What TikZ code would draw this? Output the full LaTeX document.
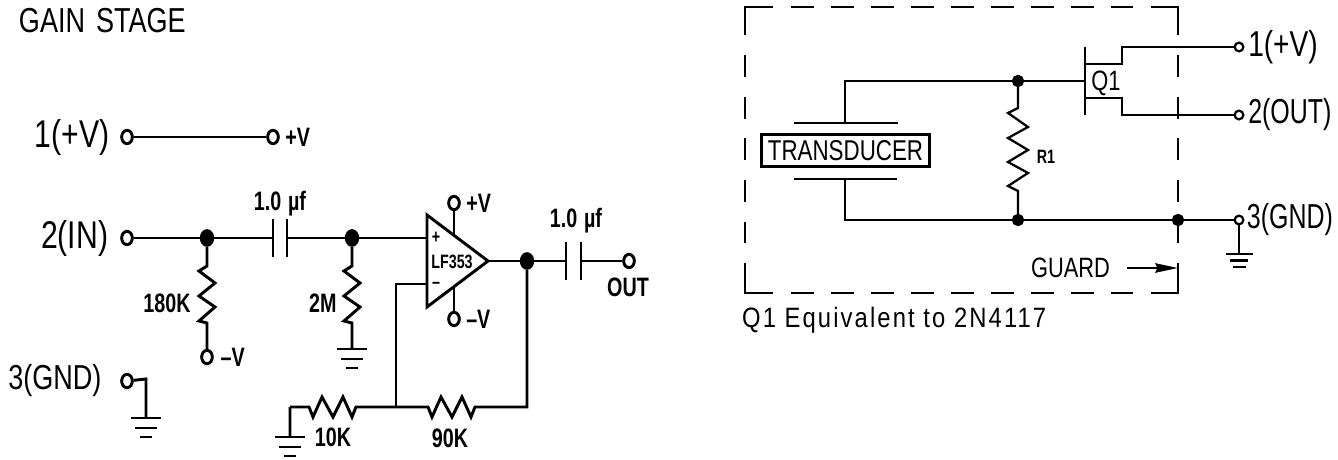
\documentclass[tikz,border=0pt]{standalone}
\usepackage{fontspec}
\usepackage{tikz}
\usetikzlibrary{positioning,arrows.meta,shapes.geometric}
\newfontfamily\cadfont[FakeStretch=0.78]{Liberation Sans}
\newfontfamily\cadnarrow[FakeStretch=0.72]{Liberation Sans}
\newfontfamily\cadwide[FakeStretch=0.85,LetterSpace=7.5]{Liberation Sans}
\newfontfamily\cadbold[FakeStretch=0.74]{Liberation Sans Bold}

\tikzset{
    vres/.style={to path={(\tikztostart) -- ++(0,#1) -- ++(-8,5) -- ++(16,12) -- ++(-16,13) -- ++(16,11) -- ++(-16,14) -- ++(8,2) -- (\tikztotarget)}},
    hres/.style={to path={(\tikztostart) -- ++(#1,0) -- ++(4,10) -- ++(9,-20) -- ++(11,20) -- ++(10,-20) -- ++(9,20) -- ++(4,-10) -- (\tikztotarget)}},
    rres/.style={to path={(\tikztostart) -- ++(0,#1) -- ++(-10,5) -- ++(20,14) -- ++(-20,11) -- ++(20,12) -- ++(-20,12) -- ++(20,11) -- ++(-20,13) -- ++(10,5) -- (\tikztotarget)}},
    gnd/.pic={\draw (-15,0) -- (15,0) (-11,10) -- (11,10) (-6,19) -- (6,19);},
    sgnd/.pic={\draw (-13,0) -- (14,0) (-9,6.5) -- (9,6.5) (-6,13) -- (7,13);}
}

\begin{document}
\begin{tikzpicture}[x=0.75pt,y=-0.75pt,line width=2.2pt]
    \tikzstyle{term}=[draw, ellipse, inner sep=0pt, minimum width=8pt, minimum height=10pt]
    \tikzstyle{dot}=[draw, ellipse, fill=black, inner sep=0pt, minimum width=8.5pt, minimum height=11pt]
    \tikzstyle{big}=[inner sep=0pt, font=\cadfont\fontsize{29}{29}\selectfont]
    \tikzstyle{narrow}=[inner sep=0pt, font=\cadnarrow\fontsize{26}{26}\selectfont]
    \tikzstyle{small}=[inner sep=0pt, font=\cadbold\fontsize{20}{20}\selectfont]
    \tikzstyle{tiny}=[inner sep=0pt, font=\cadbold\fontsize{14.5}{14.5}\selectfont]
    \tikzstyle{mid}=[inner sep=0pt, font=\cadfont\fontsize{21}{21}\selectfont]
    \tikzstyle{thinwire}=[line width=1.7pt]
    \tikzstyle{sterm}=[draw, line width=1.7pt, circle, inner sep=0pt, minimum size=6.5pt]
    \tikzstyle{sdot}=[draw, line width=1.7pt, circle, fill=black, inner sep=0pt, minimum size=7.5pt]
    \tikzstyle{guardh}=[line width=1.7pt, dash pattern=on 17.25pt off 12.75pt]
    \tikzstyle{guardv}=[line width=1.7pt, dash pattern=on 16.5pt off 14.75pt]

    \useasboundingbox (0,0) rectangle (1338,460);

    \node (title) [big, font=\cadfont\fontsize{26}{26}\selectfont, anchor=west] at (17.5,21) {GAIN\hspace{0.1em} STAGE};

    \node (t1) [term] at (127,137) {};
    \node (t2) [term] at (127,238) {};
    \node (t3) [term] at (127,381) {};
    \node (pv1) [term] at (273,137) {};
    \node (mv1) [term] at (207,357) {};
    \node (pv2) [term] at (454,203) {};
    \node (mv2) [term] at (454,319) {};
    \node (vout) [term] at (629,261) {};

    \node (lab1) [big, left=7pt of t1] {1(+V)};
    \node (lab2) [big, left=8pt of t2] {2(IN)};
    \node (lab3) [narrow, font=\cadfont\fontsize{26}{26}\selectfont, left=13pt of t3] {3(GND)};
    \node (lpv1) [small, right=3pt of pv1] {+V};
    \node (lmv1) [small, right=4pt of mv1] {–V};
    \node (lpv2) [small, right=3pt of pv2] {+V};
    \node (lmv2) [small, right=3pt of mv2] {–V};
    \node (lout) [small] at (628,287) {OUT};

    \node (j1) [dot] at (207,238) {};
    \node (j2) [dot] at (352,238) {};
    \node (j3) [dot] at (527,261) {};

    \coordinate (c1a) at (273,238);
    \coordinate (c1b) at (287,238);
    \coordinate (c2a) at (566,261);
    \coordinate (c2b) at (581,261);
    \draw (273,219) -- (273,257) (287,219) -- (287,257);
    \draw (566,242) -- (566,280) (581,242) -- (581,280);
    \node (lc1) [small] at (280,204) {1.0\hspace{0.25em}µf};
    \node (lc2) [small] at (576,221) {1.0\hspace{0.25em}µf};

    \draw (427,215) -- (427,307) -- (488,261) -- cycle;
    \coordinate (inp) at (427,238);
    \coordinate (inn) at (427,284);
    \coordinate (amp) at (488,261);
    \coordinate (vcc) at (454,235);
    \coordinate (vee) at (454,287);
    \node (plus) [tiny] at (436,238) {+};
    \node (minus) [tiny] at (436,285) {–};
    \node (lf) [tiny] at (452,262) {LF353};

    \coordinate (g1) at (146,418);
    \coordinate (g2) at (352,349);
    \coordinate (g3) at (290,437);
    \coordinate (k1) at (146,379);
    \coordinate (k2) at (290,407);
    \coordinate (k3) at (396,407);
    \coordinate (k4) at (396,284);
    \coordinate (k5) at (527,407);

    \draw (t1) -- (pv1);
    \draw (t2) -- (j1) -- (c1a);
    \draw (c1b) -- (j2) -- (inp);
    \draw (j1) to[vres=28] (mv1);
    \draw (j2) to[vres=28] (g2);
    \draw (t3) -- (k1) -- (g1);
    \draw (g3) -- (k2) to[hres=19] (k3) to[hres=32] (k5) -- (j3);
    \draw (k3) -- (k4) -- (inn);
    \draw (amp) -- (j3) -- (c2a);
    \draw (c2b) -- (vout);
    \draw (vcc) -- (pv2);
    \draw (vee) -- (mv2);
    \pic at (g1) {gnd};
    \pic at (g2) {gnd};
    \pic at (g3) {gnd};

    \node (r180) [small, anchor=east] at (192,303) {180K};
    \node (r2m) [small, anchor=east] at (338,303) {2M};
    \node (r10) [small] at (333,437) {10K};
    \node (r90) [small] at (450,438) {90K};

    \begin{scope}[thinwire]
        \draw (745,35) -- (745,7) -- (773,7);
        \draw (1151,7) -- (1178,7) -- (1178,35);
        \draw (745,263) -- (745,293) -- (773,293);
        \draw (1151,293) -- (1178,293) -- (1178,263);
        \draw[guardh] (791,7) -- (1133,7);
        \draw[guardh] (791,293) -- (1133,293);
        \draw[guardv] (745,55) -- (745,243);
        \draw[guardv] (1178,55) -- (1178,243);

        \node (tt1) [sterm] at (1239,47) {};
        \node (tt2) [sterm] at (1239,115) {};
        \node (tt3) [sterm] at (1239,220) {};
        \node (j4) [sdot] at (1018,81) {};
        \node (j5) [sdot] at (1018,220) {};
        \node (j6) [sdot] at (1178,220) {};

        \node (ltt1) [big, font=\cadfont\fontsize{27}{27}\selectfont, right=2pt of tt1] {1(+V)};
        \node (ltt2) [narrow, right=2pt of tt2] {2(OUT)};
        \node (ltt3) [narrow, right=1pt of tt3] {3(GND)};

        \node (xd) [draw, line width=1.6pt, inner sep=0pt, minimum width=126pt, minimum height=24pt, mid, font=\cadfont\fontsize{21.5}{21.5}\selectfont] at (845.5,150.5) {TRANSDUCER\hspace{4pt}};
        \coordinate (pa) at (845,123);
        \coordinate (pb) at (845,179);
        \draw (794,123) -- (898,123);
        \draw (794,179) -- (897,179);

        \coordinate (gate) at (1085,81);
        \coordinate (wa) at (845,81);
        \coordinate (wb) at (845,220);
        \coordinate (d1) at (1122,64);
        \coordinate (d2) at (1122,47);
        \coordinate (s1) at (1122,98);
        \coordinate (s2) at (1122,115);
        \draw (1085,47) -- (1085,115);
        \draw (pa) -- (wa) -- (j4) -- (gate);
        \draw (pb) -- (wb) -- (j5) -- (j6) -- (tt3);
        \draw (j4) to[rres=27] (j5);
        \draw (1085,64) -- (d1) -- (d2) -- (tt1);
        \draw (1085,98) -- (s1) -- (s2) -- (tt2);
        \node (q1) [mid] at (1106,83) {Q1};
        \node (r1) [tiny] at (1046,157) {R1};

        \coordinate (g4) at (1239,254);
        \draw (tt3) -- (g4);
        \pic at (g4) {sgnd};

        \node (guard) [mid, anchor=west] at (1030,268) {GUARD};
        \coordinate (ga) at (1127,268);
        \coordinate (gb) at (1178,268);
        \draw[-{Stealth[length=17pt,width=7pt,inset=1.5pt]}] (ga) -- (gb);

        \node (note) [inner sep=0pt, font=\cadwide\fontsize{21}{21}\selectfont, anchor=west] at (741,320) {Q1 Equivalent to 2N4117};
    \end{scope}
\end{tikzpicture}
\end{document}
